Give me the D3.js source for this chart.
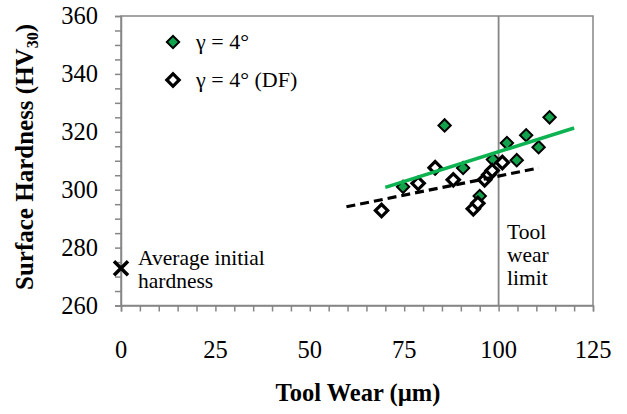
<!DOCTYPE html>
<html><head><meta charset="utf-8">
<script src="https://cdn.jsdelivr.net/npm/d3@7"></script>
<style>html,body{margin:0;padding:0;background:#fff;}svg{display:block;}</style>
</head><body>
<script>
// ---- data ----
const greenX = [74.7, 85.7, 90.6, 95.0, 98.5, 102.2, 104.8, 107.3, 110.6, 113.5];
const greenY = [301.0, 322.2, 307.5, 297.8, 310.4, 316.1, 310.2, 318.8, 314.7, 325.0];
const dfX = [69.0, 78.7, 83.2, 88.0, 93.3, 94.5, 96.3, 97.4, 98.3, 101.0];
const dfY = [292.8, 302.2, 307.6, 303.4, 293.4, 295.3, 303.4, 305.2, 306.6, 309.4];
const greenTrendX = [70, 120];
const greenTrendY = [300.8, 321.3];
const dfTrendX = [59.7, 110.6];
const dfTrendY = [294.1, 307.5];
const initialX = [0];
const initialY = [272.9];
const toolWearLimit = [100];
const xTicks = [0, 25, 50, 75, 100, 125];
const yTicks = [260, 280, 300, 320, 340, 360];
const legendLabels = ["γ = 4°", "γ = 4° (DF)"];

const W = 627, H = 414;
const FONT = "'Liberation Serif','Times New Roman',serif";
const AXIS = "#868686";
const GREEN_FILL = "#12a24c";
const GREEN_LINE = "#0db350";

const svg = d3.select("body").append("svg").attr("width", W).attr("height", H)
  .style("font-family", FONT);

const x = d3.scaleLinear().domain([0, 125]).range([121, 593]);
const y = d3.scaleLinear().domain([260, 360]).range([305.5, 16]);

// plot border (top/right)
svg.append("rect").attr("x", x(0)).attr("y", y(360))
  .attr("width", x(125) - x(0)).attr("height", y(260) - y(360))
  .attr("fill", "none").attr("stroke", AXIS).attr("stroke-width", 1.5);

// axes
const minorX = d3.range(0, 126, 5);
const minorY = d3.range(260, 361, 5);
const xAxis = d3.axisBottom(x).tickValues(minorX).tickSize(6).tickFormat("");
const yAxis = d3.axisLeft(y).tickValues(minorY).tickSize(6).tickFormat("");
const gx = svg.append("g").attr("transform", `translate(0,${y(260)})`).call(xAxis);
const gy = svg.append("g").attr("transform", `translate(${x(0)},0)`).call(yAxis);
[gx, gy].forEach(g => {
  g.select(".domain").attr("stroke", AXIS).attr("stroke-width", 1.5);
  g.selectAll(".tick line").attr("stroke", AXIS).attr("stroke-width", 1.5);
});

// tick labels
svg.append("g").selectAll("text").data(xTicks).join("text")
  .attr("x", d => x(d)).attr("y", 358).attr("text-anchor", "middle")
  .attr("font-size", 24.5).attr("fill", "#000").text(d => d);
svg.append("g").selectAll("text").data(yTicks).join("text")
  .attr("x", 98).attr("y", d => y(d) + 8).attr("text-anchor", "end")
  .attr("font-size", 24.5).attr("fill", "#000").text(d => d);

// tool wear limit line
svg.append("g").selectAll("line").data(toolWearLimit).join("line")
  .attr("x1", d => x(d)).attr("x2", d => x(d))
  .attr("y1", y(360)).attr("y2", y(260))
  .attr("stroke", AXIS).attr("stroke-width", 1.8);

const diamond = d3.symbol().type(d3.symbolSquare).size(76);

// green series
svg.append("g").selectAll("path").data(greenX.map((v, i) => [v, greenY[i]])).join("path")
  .attr("d", diamond)
  .attr("transform", d => `translate(${x(d[0])},${y(d[1])}) rotate(45)`)
  .attr("fill", GREEN_FILL).attr("stroke", "#000").attr("stroke-width", 2);

// DF series
svg.append("g").selectAll("path").data(dfX.map((v, i) => [v, dfY[i]])).join("path")
  .attr("d", diamond)
  .attr("transform", d => `translate(${x(d[0])},${y(d[1])}) rotate(45)`)
  .attr("fill", "#fff").attr("stroke", "#000").attr("stroke-width", 3.2);

// trend lines
const line = d3.line().x(d => x(d[0])).y(d => y(d[1]));
svg.append("path").datum(greenTrendX.map((v, i) => [v, greenTrendY[i]]))
  .attr("d", line).attr("fill", "none").attr("stroke", GREEN_LINE).attr("stroke-width", 3.5);
svg.append("path").datum(dfTrendX.map((v, i) => [v, dfTrendY[i]]))
  .attr("d", line).attr("fill", "none").attr("stroke", "#000").attr("stroke-width", 3.2)
  .attr("stroke-dasharray", "9,5");

// initial hardness cross
const cross = d3.symbol().type(d3.symbolX).size(130);
svg.append("g").selectAll("path").data(initialX.map((v, i) => [v, initialY[i]])).join("path")
  .attr("d", cross)
  .attr("transform", d => `translate(${x(d[0])},${y(d[1])})`)
  .attr("fill", "none").attr("stroke", "#000").attr("stroke-width", 3.5);

// annotations
const ann1 = svg.append("text").attr("font-size", 21.5).attr("fill", "#000");
ann1.append("tspan").attr("x", 138).attr("y", 265).text("Average initial");
ann1.append("tspan").attr("x", 138).attr("y", 288).text("hardness");
const ann2 = svg.append("text").attr("font-size", 21.5).attr("fill", "#000");
ann2.append("tspan").attr("x", 507).attr("y", 239).text("Tool");
ann2.append("tspan").attr("x", 507).attr("y", 262).text("wear");
ann2.append("tspan").attr("x", 507).attr("y", 285).text("limit");

// legend
const legY = [42, 80];
const leg = svg.append("g");
leg.selectAll("path").data(legendLabels).join("path")
  .attr("d", diamond)
  .attr("transform", (d, i) => `translate(173,${legY[i]}) rotate(45)`)
  .attr("fill", (d, i) => i === 0 ? GREEN_FILL : "#fff")
  .attr("stroke", "#000").attr("stroke-width", (d, i) => i === 0 ? 2 : 3.2);
leg.selectAll("text").data(legendLabels).join("text")
  .attr("x", 196).attr("y", (d, i) => legY[i] + 7)
  .attr("font-size", 22).attr("fill", "#000").text(d => d);

// axis titles
svg.append("text").attr("x", 358).attr("y", 401).attr("text-anchor", "middle")
  .attr("font-size", 24.5).attr("font-weight", "bold").attr("fill", "#000")
  .text("Tool Wear (µm)");
const yt = svg.append("text").attr("transform", "translate(33,157) rotate(-90)")
  .attr("text-anchor", "middle").attr("font-size", 25).attr("font-weight", "bold").attr("fill", "#000");
yt.append("tspan").text("Surface Hardness (HV");
yt.append("tspan").attr("font-size", 16).attr("dy", 5).text("30");
yt.append("tspan").attr("dy", -5).text(")");
</script>
</body></html>
